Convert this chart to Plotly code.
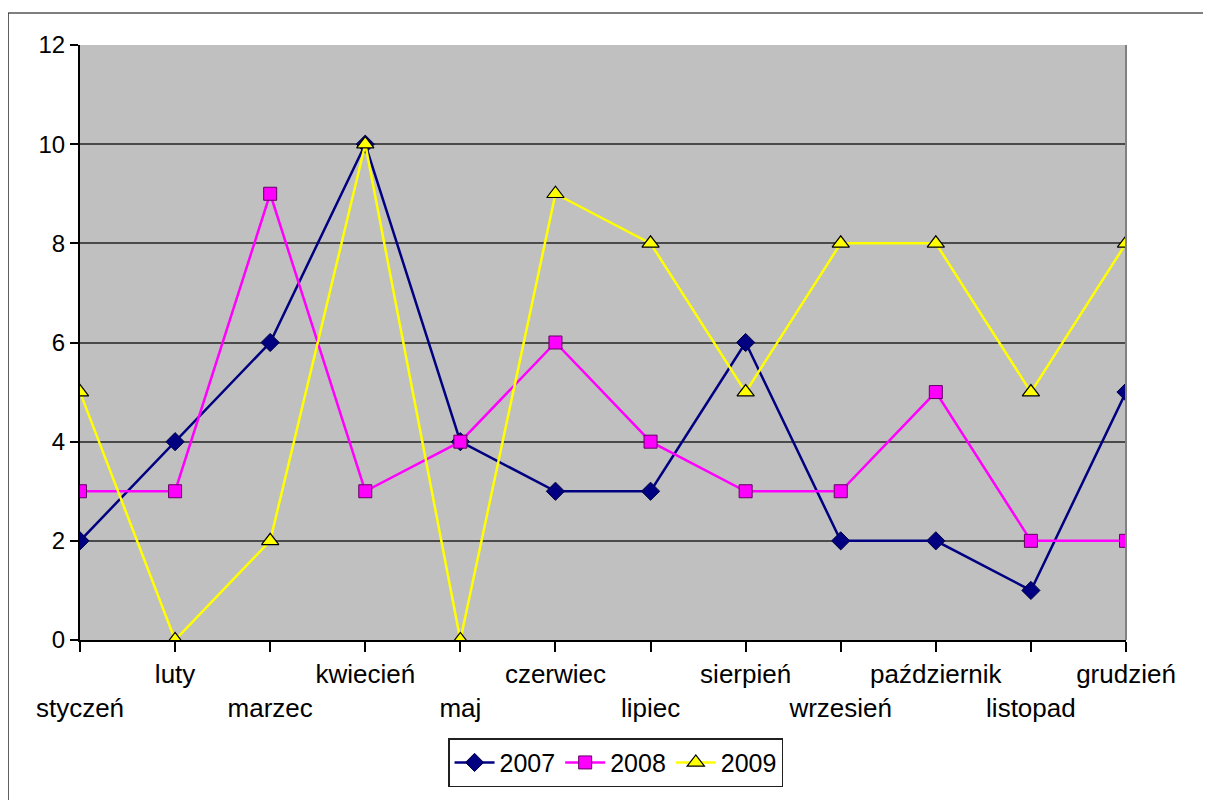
import plotly.graph_objects as go

months = ["styczeń", "luty", "marzec", "kwiecień", "maj", "czerwiec",
          "lipiec", "sierpień", "wrzesień", "październik", "listopad", "grudzień"]
s2007 = [2, 4, 6, 10, 4, 3, 3, 6, 2, 2, 1, 5]
s2008 = [3, 3, 9, 3, 4, 6, 4, 3, 3, 5, 2, 2]
s2009 = [5, 0, 2, 10, 0, 9, 8, 5, 8, 8, 5, 8]
y_ticks = [0, 2, 4, 6, 8, 10, 12]

xpos = list(range(len(months)))
ticktext = [("&nbsp;<br>" + m) if i % 2 == 0 else (m + "<br>&nbsp;") for i, m in enumerate(months)]

FONT = "Liberation Sans, Arial, sans-serif"

fig = go.Figure()
fig.add_trace(go.Scatter(x=xpos, y=s2007, name="2007", mode="lines+markers",
                         line=dict(color="#000080", width=2.5),
                         marker=dict(symbol="diamond", size=14, color="#000080",
                                     line=dict(color="#000040", width=1))))
fig.add_trace(go.Scatter(x=xpos, y=s2008, name="2008", mode="lines+markers",
                         line=dict(color="#FF00FF", width=2.5),
                         marker=dict(symbol="square", size=13, color="#FF00FF",
                                     line=dict(color="#600060", width=1))))
fig.add_trace(go.Scatter(x=xpos, y=s2009, name="2009", mode="lines+markers",
                         line=dict(color="#FFFF00", width=2.5),
                         marker=dict(symbol="triangle-up", size=15, color="#FFFF00",
                                     line=dict(color="#000000", width=1.2))))

fig.update_layout(
    width=1203, height=792,
    margin=dict(l=72, r=85, t=37, b=160),
    paper_bgcolor="white", plot_bgcolor="#C0C0C0",
    font=dict(family=FONT, size=24, color="black"),
    showlegend=True,
    legend=dict(orientation="h", x=0.512, xanchor="center", y=-0.165, yanchor="top",
                bordercolor="#202020", borderwidth=1.5, bgcolor="white",
                font=dict(size=25), itemwidth=40, tracegroupgap=0),
    xaxis=dict(range=[0, 11], tickmode="array", tickvals=xpos, ticktext=ticktext,
               showgrid=False, zeroline=False, showline=True, linecolor="black", linewidth=2,
               ticks="outside", ticklen=10, tickcolor="black", tickwidth=1.5,
               tickfont=dict(size=26), tickangle=0),
    yaxis=dict(range=[0, 12], tickmode="array", tickvals=y_ticks,
               showgrid=True, gridcolor="#4a4a4a", gridwidth=1.5, zeroline=False,
               showline=True, linecolor="black", linewidth=2,
               ticks="outside", ticklen=8, tickcolor="black", tickwidth=1.5,
               tickfont=dict(size=24)),
    shapes=[
        dict(type="line", xref="paper", yref="paper", x0=1, x1=1, y0=0, y1=1,
             line=dict(color="#808080", width=2)),
        dict(type="line", xref="paper", yref="paper", x0=-0.0688, x1=1.2, y0=1.0538, y1=1.0538,
             line=dict(color="#555555", width=1.5)),
        dict(type="line", xref="paper", yref="paper", x0=-0.0688, x1=-0.0688, y0=1.0538, y1=-0.5,
             line=dict(color="#333333", width=1.5)),
    ],
)

fig.write_html("out.html")
